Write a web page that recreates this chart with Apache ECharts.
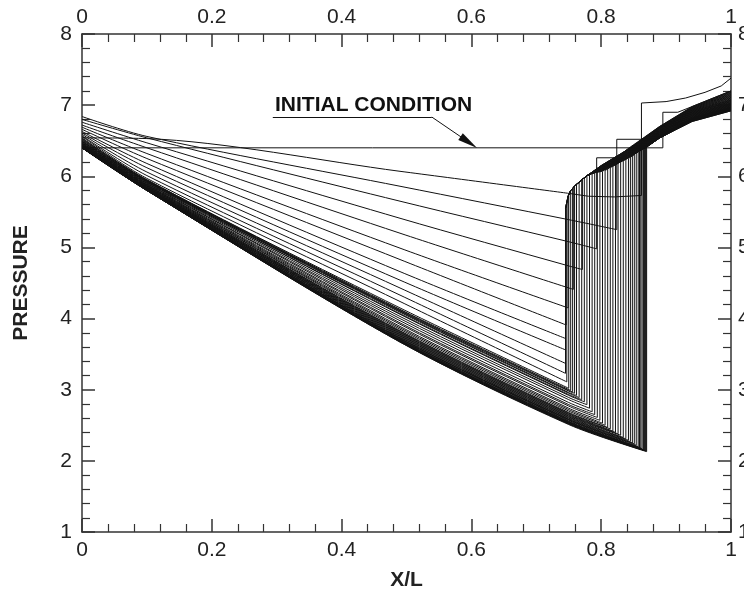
<!DOCTYPE html>
<html>
<head>
<meta charset="utf-8" />
<title>Pressure history</title>
<script src="https://cdn.jsdelivr.net/npm/echarts@6/dist/echarts.min.js"></script>
<style>
  html, body { margin: 0; padding: 0; background: #fff; }
  #main { width: 744px; height: 591px; }
</style>
</head>
<body>
<div id="main"></div>
<script type="text/javascript">
// one entry per profile; first 12 are the early sparse ones, the rest the dense late family
// pressure at X/L = 0, 0.1, 0.49 and 0.75 (0.75 only when the jump sits further right)
var p0 = [6.54, 6.84, 6.80, 6.76, 6.72, 6.69, 6.66, 6.63, 6.61, 6.59, 6.57, 6.56,
    6.54, 6.53, 6.52, 6.51, 6.50, 6.49, 6.49, 6.48, 6.47, 6.47, 6.46, 6.46, 6.45,
    6.45, 6.44, 6.44, 6.44, 6.43, 6.43, 6.43, 6.42, 6.42, 6.42, 6.42, 6.41, 6.41,
    6.41, 6.41, 6.41, 6.40, 6.40, 6.40, 6.40, 6.40, 6.40, 6.40, 6.40, 6.40, 6.40];
var p10 = [6.53, 6.56, 6.54, 6.47, 6.40, 6.32, 6.25, 6.18, 6.12, 6.06, 6.01, 5.97,
    5.95, 5.95, 5.94, 5.94, 5.93, 5.93, 5.92, 5.92, 5.91, 5.90, 5.90, 5.89, 5.88,
    5.88, 5.87, 5.87, 5.86, 5.86, 5.85, 5.85, 5.84, 5.84, 5.84, 5.83, 5.83, 5.83,
    5.82, 5.82, 5.82, 5.82, 5.81, 5.81, 5.81, 5.81, 5.80, 5.80, 5.80, 5.80, 5.80];
var p49 = [6.07, 5.86, 5.65, 5.41, 5.20, 4.99, 4.83, 4.66, 4.54, 4.43, 4.33, 4.24,
    4.15, 4.13, 4.12, 4.11, 4.10, 4.09, 4.07, 4.06, 4.03, 4.00, 3.97, 3.94, 3.92,
    3.89, 3.87, 3.85, 3.83, 3.82, 3.81, 3.80, 3.79, 3.78, 3.77, 3.76, 3.75, 3.74,
    3.73, 3.72, 3.72, 3.71, 3.70, 3.70, 3.69, 3.69, 3.68, 3.68, 3.68, 3.67, 3.67];
var p75 = [null, 5.39, 5.08, 4.74, null, null, null, null, null, null, null, null,
    null, null, 2.99, 2.98, 2.96, 2.95, 2.93, 2.92, 2.89, 2.86, 2.82, 2.79, 2.77,
    2.74, 2.72, 2.70, 2.68, 2.67, 2.66, 2.65, 2.64, 2.63, 2.62, 2.61, 2.60, 2.59,
    2.58, 2.58, 2.57, 2.56, 2.55, 2.55, 2.54, 2.54, 2.53, 2.53, 2.52, 2.52, 2.51];
// jump position, pressure below and above the jump
var jumpX = [0.750, 0.824, 0.793, 0.771, 0.757, 0.749, 0.746, 0.745, 0.745, 0.745, 0.745, 0.747,
    0.750, 0.753, 0.756, 0.759, 0.762, 0.766, 0.770, 0.774, 0.778, 0.782, 0.786, 0.790, 0.794,
    0.798, 0.802, 0.806, 0.810, 0.814, 0.818, 0.822, 0.826, 0.830, 0.834, 0.838, 0.842, 0.845,
    0.848, 0.851, 0.854, 0.857, 0.859, 0.861, 0.863, 0.865, 0.866, 0.867, 0.868, 0.869, 0.870];
var jumpLow = [5.76, 5.25, 4.98, 4.69, 4.41, 4.15, 3.91, 3.72, 3.56, 3.37, 3.23, 3.11,
    3.02, 2.99, 2.97, 2.95, 2.92, 2.89, 2.86, 2.83, 2.79, 2.74, 2.69, 2.65, 2.61,
    2.57, 2.53, 2.50, 2.47, 2.45, 2.42, 2.40, 2.38, 2.36, 2.33, 2.31, 2.29, 2.27,
    2.25, 2.24, 2.22, 2.20, 2.19, 2.18, 2.17, 2.16, 2.15, 2.15, 2.14, 2.14, 2.13];
var jumpHigh = [null, 6.52, 6.26, 5.96, 5.85, 5.72, 5.55, 5.55, 5.55, 5.55, 5.55, 5.62,
    5.74, 5.80, 5.83, 5.86, 5.89, 5.92, 5.95, 5.98, 6.01, 6.03, 6.04, 6.05, 6.06,
    6.06, 6.07, 6.08, 6.11, 6.12, 6.14, 6.16, 6.19, 6.20, 6.22, 6.24, 6.25, 6.27,
    6.29, 6.31, 6.33, 6.34, 6.35, 6.37, 6.37, 6.38, 6.39, 6.39, 6.40, 6.41, 6.41];
// high-pressure branch behind the jump, at X/L = 0.80, 0.84, 0.89, 0.94 and 1
var u80 = [null, 6.16, 6.16, 6.15, 6.15, 6.15, 6.14, 6.14, 6.13, 6.13, 6.13, 6.12,
    6.12, 6.11, 6.11, 6.10, 6.10, 6.10, 6.09, 6.09, 6.08, 6.08, 6.08, 6.07, 6.07,
    6.06, 6.06, 6.06, 6.05, 6.05, 6.04, 6.04, 6.04, 6.03, 6.03, 6.03, 6.02, 6.02,
    6.02, 6.02, 6.01, 6.01, 6.01, 6.01, 6.00, 6.00, 6.00, 6.00, 6.00, 6.00, 6.00];
var u84 = [null, 6.38, 6.38, 6.37, 6.37, 6.37, 6.36, 6.36, 6.35, 6.35, 6.35, 6.34,
    6.34, 6.33, 6.33, 6.32, 6.32, 6.32, 6.31, 6.31, 6.30, 6.30, 6.30, 6.29, 6.29,
    6.28, 6.28, 6.28, 6.27, 6.27, 6.26, 6.26, 6.26, 6.25, 6.25, 6.25, 6.24, 6.24,
    6.24, 6.24, 6.23, 6.23, 6.23, 6.23, 6.22, 6.22, 6.22, 6.22, 6.22, 6.22, 6.22];
var u89 = [null, 6.70, 6.70, 6.69, 6.69, 6.69, 6.68, 6.68, 6.67, 6.67, 6.67, 6.66,
    6.66, 6.65, 6.65, 6.64, 6.64, 6.64, 6.63, 6.63, 6.62, 6.62, 6.62, 6.61, 6.61,
    6.60, 6.60, 6.60, 6.59, 6.59, 6.58, 6.58, 6.58, 6.57, 6.57, 6.57, 6.56, 6.56,
    6.56, 6.56, 6.55, 6.55, 6.55, 6.55, 6.54, 6.54, 6.54, 6.54, 6.54, 6.54, 6.54];
var u94 = [null, 6.98, 6.97, 6.97, 6.96, 6.96, 6.95, 6.95, 6.94, 6.94, 6.93, 6.93,
    6.92, 6.92, 6.91, 6.91, 6.90, 6.90, 6.89, 6.89, 6.88, 6.88, 6.87, 6.87, 6.86,
    6.86, 6.85, 6.85, 6.84, 6.84, 6.83, 6.83, 6.82, 6.82, 6.82, 6.81, 6.81, 6.81,
    6.80, 6.80, 6.80, 6.79, 6.79, 6.79, 6.79, 6.78, 6.78, 6.78, 6.78, 6.77, 6.77];
var uEnd = [null, 7.20, 7.19, 7.18, 7.17, 7.16, 7.15, 7.14, 7.13, 7.12, 7.11, 7.10,
    7.09, 7.08, 7.07, 7.07, 7.06, 7.05, 7.05, 7.04, 7.03, 7.03, 7.02, 7.02, 7.01,
    7.01, 7.00, 7.00, 6.99, 6.99, 6.98, 6.98, 6.97, 6.97, 6.97, 6.96, 6.96, 6.96,
    6.95, 6.95, 6.95, 6.94, 6.94, 6.94, 6.94, 6.93, 6.93, 6.93, 6.93, 6.92, 6.92];

// rounded corner on top of the jump near X/L = 0.75
var roundX = [0.746, 0.749, 0.753, 0.760, 0.770, 0.780];
var roundP = [5.62, 5.72, 5.80, 5.87, 5.95, 6.02];

// odd shapes of the first profiles
var firstTail = [[0.78, 5.72], [0.82, 5.71], [0.862, 5.73], [0.862, 7.03], [0.90, 7.05],
    [0.93, 7.10], [0.96, 7.18], [0.985, 7.27], [1.0, 7.38]];
var steps = { 1: [[0.863, 6.52]], 2: [[0.824, 6.26]] };

var initial = [[0, 6.4], [0.895, 6.4], [0.895, 6.9], [0.918, 6.9], [0.94, 6.98], [1.0, 7.2]];
var leader = [[0.294, 6.833], [0.539, 6.833], [0.596, 6.478]];

function leftPart(i) {
    var pts = [[0, p0[i]], [0.1, p10[i]], [0.49, p49[i]]];
    if (p75[i] !== null) pts.push([0.75, p75[i]]);
    pts.push([jumpX[i], jumpLow[i]]);
    return pts;
}

function rightPart(i) {
    var pts = [[jumpX[i], jumpLow[i]]];
    if (i === 0) return pts.concat(firstTail);
    pts.push([jumpX[i], jumpHigh[i]]);
    var last = jumpX[i];
    (steps[i] || []).forEach(function (s) { pts.push(s); last = s[0]; });
    for (var k = 0; k < roundX.length; k++) {
        if (roundX[k] > last + 0.001) pts.push([roundX[k], roundP[k]]);
    }
    if (last < 0.799) pts.push([0.80, u80[i]]);
    if (last < 0.839) pts.push([0.84, u84[i]]);
    pts.push([0.89, u89[i]], [0.94, u94[i]], [1.0, uEnd[i]]);
    return pts;
}

var font = '"Liberation Sans", Arial, Helvetica, sans-serif';
var ink = '#111';

var series = [{
    type: 'line', data: initial, symbol: 'none', silent: true,
    lineStyle: { color: ink, width: 1 },
    markLine: {
        silent: true, animation: false,
        label: { show: false },
        lineStyle: { color: ink, width: 1, type: 'solid' },
        data: [
            [{ coord: leader[0], symbol: 'none' }, { coord: leader[1], symbol: 'none' }],
            [{ coord: leader[1], symbol: 'none' },
             { coord: leader[2], symbol: 'path://M5 0 L10 20 L0 20 Z', symbolSize: [8, 20] }]
        ]
    }
}];
for (var i = 0; i < p0.length; i++) {
    series.push({
        type: 'line', data: leftPart(i), symbol: 'none', silent: true, smooth: 0.3,
        lineStyle: { color: ink, width: 1 }
    });
    series.push({
        type: 'line', data: rightPart(i), symbol: 'none', silent: true,
        lineStyle: { color: ink, width: 1 }
    });
}

function axisStyle(extra) {
    var base = {
        type: 'value',
        axisLine: { show: true, onZero: false, lineStyle: { color: '#333', width: 1.5 } },
        axisTick: { show: true, inside: true, length: 13, lineStyle: { color: '#333', width: 1.5 } },
        minorTick: { show: true, splitNumber: 5, length: 8, lineStyle: { color: '#333', width: 1.2 } },
        splitLine: { show: false },
        axisLabel: { color: '#222', fontSize: 21, fontFamily: font }
    };
    for (var k in extra) base[k] = extra[k];
    return base;
}

var nameStyle = { color: '#222', fontSize: 21, fontWeight: 'bold', fontFamily: font };

var myChart = echarts.init(document.getElementById('main'));
myChart.setOption({
    animation: false,
    grid: { left: 82, right: 13, top: 34, bottom: 59, containLabel: false, outerBoundsMode: 'none' },
    xAxis: [
        axisStyle({ position: 'bottom', min: 0, max: 1, interval: 0.2,
            name: 'X/L', nameLocation: 'middle', nameGap: 38, nameTextStyle: nameStyle }),
        axisStyle({ position: 'top', min: 0, max: 1, interval: 0.2 })
    ],
    yAxis: [
        axisStyle({ position: 'left', min: 1, max: 8, interval: 1,
            name: 'PRESSURE', nameLocation: 'middle', nameGap: 50, nameRotate: 90, nameTextStyle: nameStyle }),
        axisStyle({ position: 'right', min: 1, max: 8, interval: 1 })
    ],
    graphic: [{
        type: 'text', left: 275, top: 95, silent: true,
        style: { text: 'INITIAL CONDITION', fill: '#111', font: 'bold 21px ' + font }
    }],
    series: series
});
myChart.setOption({
    xAxis: [{ axisLabel: { margin: 8 } }, { axisLabel: { margin: 6 } }],
    yAxis: [{ axisLabel: { margin: 10 } }, { axisLabel: { margin: 7 } }]
});
</script>
</body>
</html>
